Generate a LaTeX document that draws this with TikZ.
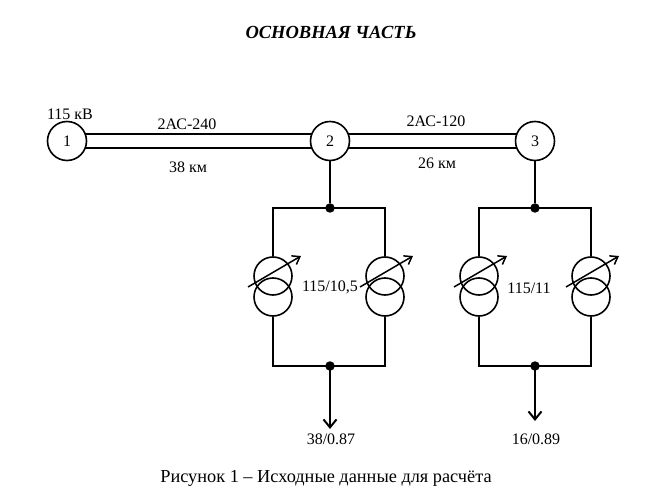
\documentclass[tikz,border=0pt]{standalone}
\usepackage{fontspec}
\setmainfont{Liberation Serif}
\usetikzlibrary{arrows.meta,calc}
\begin{document}
\begin{tikzpicture}[x=1pt,y=-1pt,
  bus/.style={circle,draw,line width=1.6pt,minimum size=39pt,inner sep=0pt,fill=white,font=\fontsize{16}{19}\selectfont},
  wire/.style={line width=2pt},
  wnd/.style={circle,draw,line width=1.6pt,minimum size=38pt,inner sep=0pt},
  dotj/.style={circle,fill=black,inner sep=0pt,minimum size=9.5pt},
  lbl/.style={inner sep=0pt,font=\fontsize{16}{19}\selectfont},
  big/.style={inner sep=0pt,font=\fontsize{18.3}{22}\selectfont},
  regarrow/.style={line width=1.5pt,-{Straight Barb[length=7pt,width=10pt,line width=1.5pt]}},
  loadarrow/.style={line width=2pt,-{Straight Barb[length=8pt,width=13pt,line width=2pt]}}
]
\useasboundingbox (0,0) rectangle (650,494);
\node[big,font=\fontsize{18.5}{22}\selectfont\bfseries\itshape] (title) at (331,32) {ОСНОВНАЯ ЧАСТЬ};
\node[big] (cap) at (326,478) {Рисунок 1 – Исходные данные для расчёта};

% buses
\coordinate (p1) at (67,141);
\coordinate (p2) at (330,141);
\coordinate (p3) at (535,141);
\draw[wire] ($(p1)+(0,-7)$) -- ($(p2)+(0,-7)$);
\draw[wire] ($(p1)+(0,7)$) -- ($(p2)+(0,7)$);
\draw[wire] ($(p2)+(0,-7)$) -- ($(p3)+(0,-7)$);
\draw[wire] ($(p2)+(0,7)$) -- ($(p3)+(0,7)$);
\node[bus] (n1) at (p1) {1};
\node[bus] (n2) at (p2) {2};
\node[bus] (n3) at (p3) {3};

\node[lbl] (v1) at (70,114) {115 кВ};
\node[lbl] (l12a) at (187,124) {2АС-240};
\node[lbl] (l12b) at (188,167) {38 км};
\node[lbl] (l23a) at (436,121) {2АС-120};
\node[lbl] (l23b) at (437,163) {26 км};

% substation 2
\node[dotj] (t2) at (330,208) {};
\node[dotj] (b2) at (330,366) {};
\draw[wire] (n2) -- (t2);
\foreach \nm/\cx in {a/273,b/385}{
  \node[wnd] (u2\nm) at (\cx,276) {};
  \node[wnd] (d2\nm) at (\cx,297) {};
  \draw[wire] (t2.center) -| (u2\nm.north);
  \draw[wire] (d2\nm.south) |- (b2.center);
  \draw[regarrow] ($(\cx,287)+(-25,0)$) -- ($(\cx,287)+(28,-31)$);
}
\node[lbl] (r2) at (330,287) {115/10,5};
\coordinate (e2) at (330,429);
\draw[loadarrow] (b2.center) -- (e2);
\node[lbl] (ld2t) at (331,439) {38/0.87};

% substation 3
\node[dotj] (t3) at (535,208) {};
\node[dotj] (b3) at (535,366) {};
\draw[wire] (n3) -- (t3);
\foreach \nm/\cx in {a/479,b/591}{
  \node[wnd] (u3\nm) at (\cx,276) {};
  \node[wnd] (d3\nm) at (\cx,297) {};
  \draw[wire] (t3.center) -| (u3\nm.north);
  \draw[wire] (d3\nm.south) |- (b3.center);
  \draw[regarrow] ($(\cx,287)+(-25,0)$) -- ($(\cx,287)+(28,-31)$);
}
\node[lbl] (r3) at (529,288) {115/11};
\coordinate (e3) at (535,421);
\draw[loadarrow] (b3.center) -- (e3);
\node[lbl] (ld3t) at (536,439) {16/0.89};
\end{tikzpicture}
\end{document}
